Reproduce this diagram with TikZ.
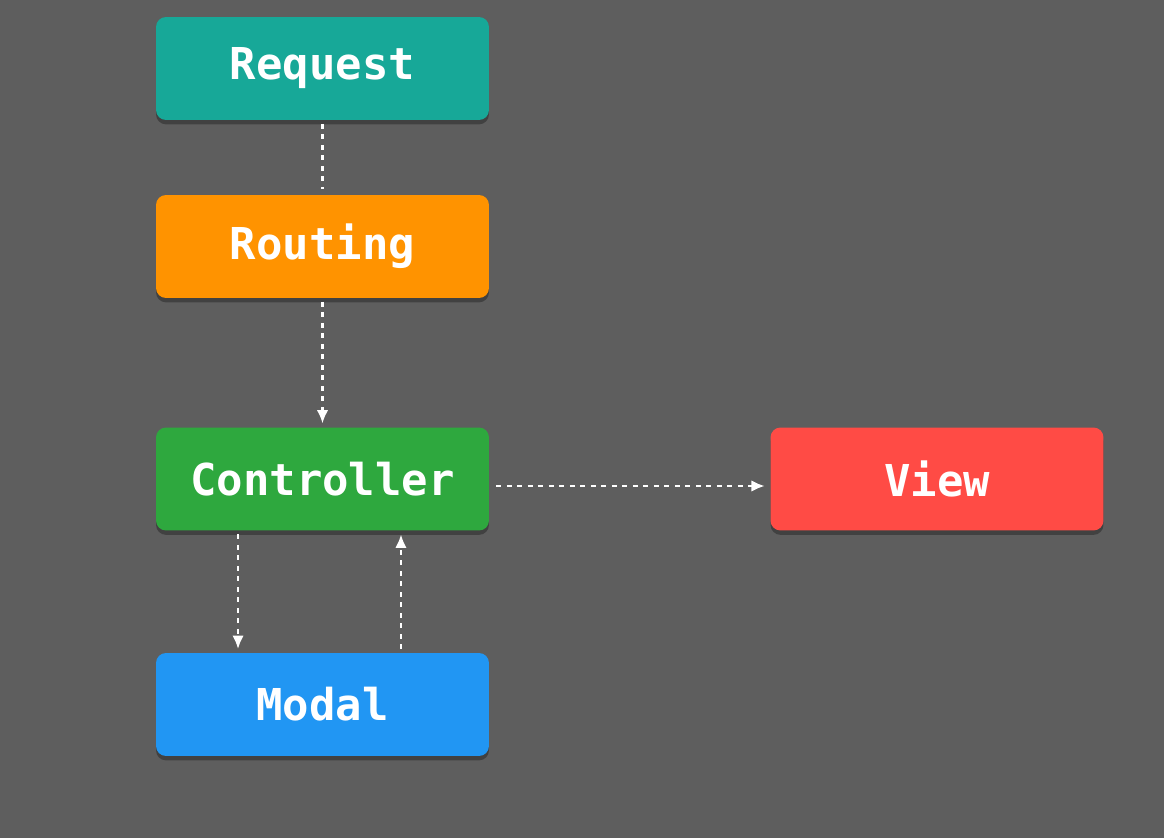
\documentclass[tikz,border=0pt]{standalone}
\usepackage{fontspec}
\setmonofont{DejaVu Sans Mono}
\usetikzlibrary{arrows.meta,shadows}
\definecolor{bggray}{HTML}{5E5E5E}
\definecolor{reqteal}{HTML}{17A898}
\definecolor{routorange}{HTML}{FF9300}
\definecolor{ctrlgreen}{HTML}{2EA83E}
\definecolor{viewred}{HTML}{FF4B45}
\definecolor{modalblue}{HTML}{2196F3}
\begin{document}
\begin{tikzpicture}[x=0.02cm,y=-0.02cm]
	\tikzset{>={Latex[length=0.27cm,width=0.23cm]}}
	\tikzset{stepbox/.style={rounded corners=0.2cm, minimum width=6.66cm, minimum height=2.06cm,
		text=white, font=\fontsize{25}{29}\selectfont\ttfamily\bfseries,
		drop shadow={shadow xshift=0pt, shadow yshift=-2.5pt, opacity=0.3, fill=black}}}
	\tikzset{flow/.style={white, line width=1.5pt, dash pattern=on 0.1cm off 0.11cm}}
	% background
	\fill [bggray] (0,0) rectangle (1164,838);
	\useasboundingbox (0,0) rectangle (1164,838);
	% boxes
	\node [stepbox, fill=reqteal] (req) at (322.5,68.5) {Request};
	\node [stepbox, fill=routorange] (rout) at (322.5,246.5) {Routing};
	\node [stepbox, fill=ctrlgreen] (ctrl) at (322.5,479) {Controller};
	\node [stepbox, fill=viewred] (view) at (937,479) {View};
	\node [stepbox, fill=modalblue] (modal) at (322.5,704.5) {Modal};
	% connectors
	\draw [flow, shorten <=2pt, shorten >=3pt] (req) -- (rout);
	\draw [flow, ->, shorten <=2pt, shorten >=2pt] (rout) -- (ctrl);
	\draw [flow, ->, shorten <=4pt, shorten >=3pt] ([yshift=-0.14cm]ctrl.east) -- ([yshift=-0.14cm]view.west);
	\draw [flow, ->, shorten <=2pt, shorten >=2pt] ([xshift=-1.69cm]ctrl.south) -- ([xshift=-1.69cm]modal.north);
	\draw [flow, ->, shorten <=2pt, shorten >=2pt] ([xshift=1.57cm]modal.north) -- ([xshift=1.57cm]ctrl.south);
\end{tikzpicture}
\end{document}
